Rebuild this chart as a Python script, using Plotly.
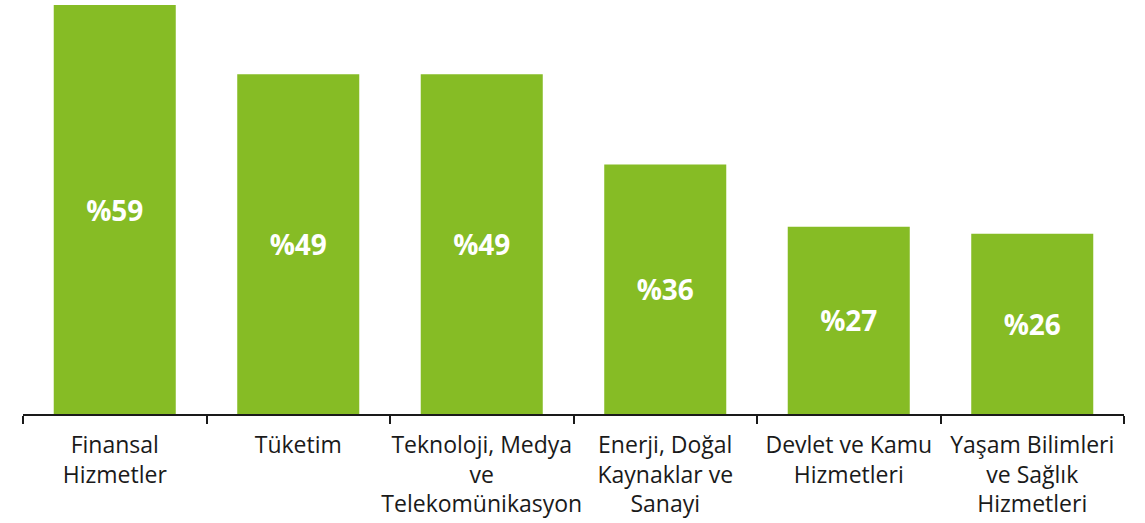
import plotly.graph_objects as go

# Sector shares (percent)
categories = [
    "Finansal<br>Hizmetler",
    "Tüketim",
    "Teknoloji, Medya<br>ve<br>Telekomünikasyon",
    "Enerji, Doğal<br>Kaynaklar ve<br>Sanayi",
    "Devlet ve Kamu<br>Hizmetleri",
    "Yaşam Bilimleri<br>ve Sağlık<br>Hizmetleri",
]
values = [59, 49, 49, 36, 27, 26]
bar_labels = [f"%{v}" for v in values]

GREEN = "#86BC25"

fig = go.Figure(
    go.Bar(
        x=categories,
        y=values,
        text=bar_labels,
        textposition="inside",
        insidetextanchor="middle",
        textangle=0,
        textfont=dict(family="Open Sans", size=28, color="white", weight="bold"),
        marker=dict(color=GREEN, line=dict(width=0)),
        hoverinfo="skip",
    )
)

fig.update_layout(
    width=1145,
    height=523,
    margin=dict(l=23, r=21, t=5, b=109),
    paper_bgcolor="white",
    plot_bgcolor="white",
    bargap=0.335,
    showlegend=False,
    uniformtext=dict(mode="show", minsize=10),
)

fig.update_xaxes(
    type="category",
    automargin=False,
    tickangle=0,
    showline=True,
    linecolor="#1a1a1a",
    linewidth=2,
    ticks="outside",
    tickson="boundaries",
    ticklen=8,
    tickwidth=2,
    tickcolor="#1a1a1a",
    ticklabelstandoff=9,
    tickfont=dict(family="Open Sans", size=23, color="#1a1a1a"),
    showgrid=False,
    zeroline=False,
)
fig.update_yaxes(
    range=[0, 59],
    visible=False,
    showgrid=False,
    zeroline=False,
)

fig.write_html("out.html")
